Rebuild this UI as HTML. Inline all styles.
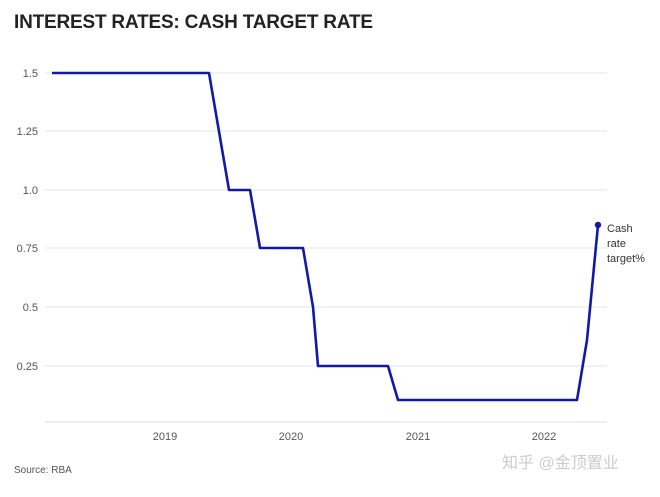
<!DOCTYPE html>
<html><head><style>
body{margin:0;background:#fff;width:660px;height:492px;overflow:hidden;font-family:"Liberation Sans",sans-serif}
</style></head><body>
<svg width="660" height="492" xmlns="http://www.w3.org/2000/svg" font-family="Liberation Sans, sans-serif">
<rect width="660" height="492" fill="#fff"/>
<text x="14" y="28" font-size="19" font-weight="bold" fill="#222" letter-spacing="-0.2">INTEREST RATES: CASH TARGET RATE</text>
<g stroke="#e6e6e6" stroke-width="1">
<line x1="45" y1="73" x2="607" y2="73"/>
<line x1="45" y1="131" x2="607" y2="131"/>
<line x1="45" y1="190" x2="607" y2="190"/>
<line x1="45" y1="248" x2="607" y2="248"/>
<line x1="45" y1="307" x2="607" y2="307"/>
<line x1="45" y1="366" x2="607" y2="366"/>
<line x1="45" y1="422" x2="607" y2="422" stroke="#ddd"/>
</g>
<g font-size="11" fill="#555" text-anchor="end">
<text x="38" y="77">1.5</text>
<text x="38" y="135">1.25</text>
<text x="38" y="194">1.0</text>
<text x="38" y="252">0.75</text>
<text x="38" y="311">0.5</text>
<text x="38" y="370">0.25</text>
</g>
<g font-size="11" fill="#555" text-anchor="middle">
<text x="165" y="440">2019</text>
<text x="291" y="440">2020</text>
<text x="418" y="440">2021</text>
<text x="544" y="440">2022</text>
</g>
<polyline fill="none" stroke="#1019aa" stroke-width="2.6" stroke-linejoin="round"
points="52,73 209,73 229,190 250,190 260,248 303,248 313,307 318,366 388,366 398,400 577,400 587,340 598,225"/>
<circle cx="598" cy="225" r="3.2" fill="#1019aa"/>
<g font-size="11" fill="#333">
<text x="607" y="232">Cash</text>
<text x="607" y="247">rate</text>
<text x="607" y="262">target%</text>
</g>
<text x="14" y="473" font-size="10" fill="#555">Source: RBA</text>
<text x="502" y="468" font-size="16" fill="#ccc" font-family="Liberation Sans, Noto Sans CJK SC, sans-serif">知乎 @金顶置业</text>
</svg>
</body></html>
